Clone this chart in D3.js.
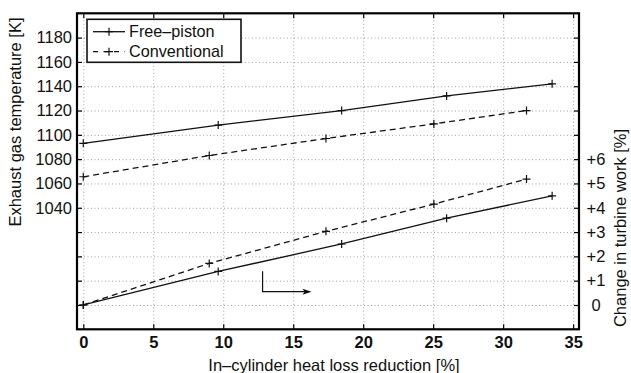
<!DOCTYPE html>
<html>
<head>
<meta charset="utf-8">
<script src="https://cdn.jsdelivr.net/npm/d3@7"></script>
<style>
  body { margin: 0; background: #fff; }
  svg { display: block; font-family: "Liberation Sans", Arial, Helvetica, sans-serif; }
</style>
</head>
<body>
<svg id="chart" width="631" height="373"></svg>
<script>
// heat loss reduction [%] for each series
const xFreePiston = [0, 9.64, 18.46, 25.96, 33.5];
const xConventional = [0, 9.0, 17.34, 25.05, 31.67];
// exhaust gas temperature [K]
const tempFreePiston = [1093, 1108, 1120, 1132, 1142];
const tempConventional = [1065.5, 1083, 1097, 1109, 1120];
// change in turbine work [%]
const workFreePiston = [0, 1.38, 2.51, 3.57, 4.49];
const workConventional = [0, 1.71, 3.03, 4.15, 5.18];

const xTicks = [0, 5, 10, 15, 20, 25, 30, 35];
const leftTicks = d3.range(960, 1181, 20);
const leftLabelMin = 1040;
const rightTicks = d3.range(0, 12, 1);
const rightLabelMax = 6;

const svg = d3.select("#chart");
const margin = { left: 77, right: 52, top: 13.3, bottom: 43.7 };
const W = +svg.attr("width"), H = +svg.attr("height");
const innerW = W - margin.left - margin.right;
const innerH = H - margin.top - margin.bottom;

const x = d3.scaleLinear().domain([-0.45, 35.42]).range([0, innerW]);
const yL = d3.scaleLinear().domain([940, 1200]).range([innerH, 0]);
const yR = d3.scaleLinear().domain([-1, 12]).range([innerH, 0]);

const g = svg.append("g").attr("transform", `translate(${margin.left},${margin.top})`);

// grid
g.append("g")
  .call(d3.axisBottom(x).tickValues(xTicks).tickSize(innerH).tickFormat(""))
  .call(s => s.select(".domain").remove())
  .selectAll("line")
  .attr("stroke", "#8a8a8a").attr("stroke-width", 0.8).attr("stroke-dasharray", "1,2.5");
g.append("g")
  .call(d3.axisLeft(yL).tickValues(leftTicks).tickSize(-innerW).tickFormat(""))
  .call(s => s.select(".domain").remove())
  .selectAll("line")
  .attr("stroke", "#8a8a8a").attr("stroke-width", 0.8).attr("stroke-dasharray", "1,2.5");

// axes, ticks pointing inward
function styleAxis(s) {
  s.select(".domain").remove();
  s.selectAll("line").attr("stroke", "#000").attr("stroke-width", 1.2);
  s.selectAll("text").attr("fill", "#111").style("font-size", "16.5px");
}
g.append("g")
  .attr("transform", `translate(0,${innerH})`)
  .call(d3.axisBottom(x).tickValues(xTicks).tickSize(-5).tickPadding(7).tickFormat(d3.format("d")))
  .call(styleAxis)
  .selectAll("text").style("font-weight", "bold");
g.append("g")
  .call(d3.axisTop(x).tickValues(xTicks).tickSize(-5).tickFormat(""))
  .call(styleAxis);
g.append("g")
  .call(d3.axisLeft(yL).tickValues(leftTicks).tickSize(-5).tickPadding(5)
    .tickFormat(d => d >= leftLabelMin ? d : ""))
  .call(styleAxis);
g.append("g")
  .attr("transform", `translate(${innerW},0)`)
  .call(d3.axisRight(yR).tickValues(rightTicks).tickSize(-5)
    .tickFormat(d => d > rightLabelMax ? "" : (d === 0 ? "0" : "+" + d)))
  .call(styleAxis)
  .selectAll("text").attr("x", 17).attr("text-anchor", "middle");

// frame
g.append("rect")
  .attr("width", innerW).attr("height", innerH)
  .attr("fill", "none").attr("stroke", "#000").attr("stroke-width", 2.2);

// series
const series = [
  { xs: xFreePiston, ys: tempFreePiston, y: yL, dash: null },
  { xs: xConventional, ys: tempConventional, y: yL, dash: "6,4" },
  { xs: xFreePiston, ys: workFreePiston, y: yR, dash: null },
  { xs: xConventional, ys: workConventional, y: yR, dash: "6,4" }
];
const plus = 4;
series.forEach(s => {
  const pts = s.xs.map((v, i) => [x(v), s.y(s.ys[i])]);
  g.append("path")
    .attr("d", d3.line()(pts))
    .attr("fill", "none").attr("stroke", "#111").attr("stroke-width", 1.3)
    .attr("stroke-dasharray", s.dash);
  g.selectAll(null).data(pts).enter().append("path")
    .attr("d", d => `M${d[0] - plus},${d[1]}H${d[0] + plus}M${d[0]},${d[1] - plus}V${d[1] + plus}`)
    .attr("stroke", "#111").attr("stroke-width", 1.2);
});

// arrow pointing to the right axis
const ax0 = x(12.81), ay0 = yR(1.385), ay1 = yR(0.546), ax1 = x(16.31);
g.append("path")
  .attr("d", `M${ax0},${ay0}V${ay1}H${ax1 - 6}`)
  .attr("fill", "none").attr("stroke", "#111").attr("stroke-width", 1.2);
g.append("path")
  .attr("d", `M${ax1},${ay1}L${ax1 - 9},${ay1 - 3}L${ax1 - 7},${ay1}L${ax1 - 9},${ay1 + 3}Z`)
  .attr("fill", "#111");

// legend
const legend = svg.append("g").attr("transform", "translate(87,19.3)");
legend.append("rect").attr("width", 154).attr("height", 43)
  .attr("fill", "#fff").attr("stroke", "#111").attr("stroke-width", 1.6);
const legendItems = [
  { name: "Free\u2013piston", dash: null },
  { name: "Conventional", dash: "5,5.5" }
];
legendItems.forEach((d, i) => {
  const ly = 12.4 + i * 20;
  legend.append("line").attr("x1", 6).attr("x2", 38).attr("y1", ly).attr("y2", ly)
    .attr("stroke", "#111").attr("stroke-width", 1.3).attr("stroke-dasharray", d.dash);
  legend.append("path")
    .attr("d", `M${22 - plus},${ly}H${22 + plus}M22,${ly - plus}V${ly + plus}`)
    .attr("stroke", "#111").attr("stroke-width", 1.2);
  legend.append("text").attr("x", 42).attr("y", ly + 5.6)
    .style("font-size", "16.2px").attr("fill", "#111").text(d.name);
});

// axis titles
svg.append("text")
  .attr("transform", "translate(21,122) rotate(-90)")
  .attr("text-anchor", "middle").style("font-size", "16.5px").attr("fill", "#111")
  .text("Exhaust gas temperature [K]");
svg.append("text")
  .attr("transform", "translate(626,228) rotate(-90)")
  .attr("text-anchor", "middle").style("font-size", "16.5px").attr("fill", "#111")
  .text("Change in turbine work [%]");
svg.append("text")
  .attr("x", 334).attr("y", 371)
  .attr("text-anchor", "middle").style("font-size", "16.5px").attr("fill", "#111")
  .text("In\u2013cylinder heat loss reduction [%]");
</script>
</body>
</html>
